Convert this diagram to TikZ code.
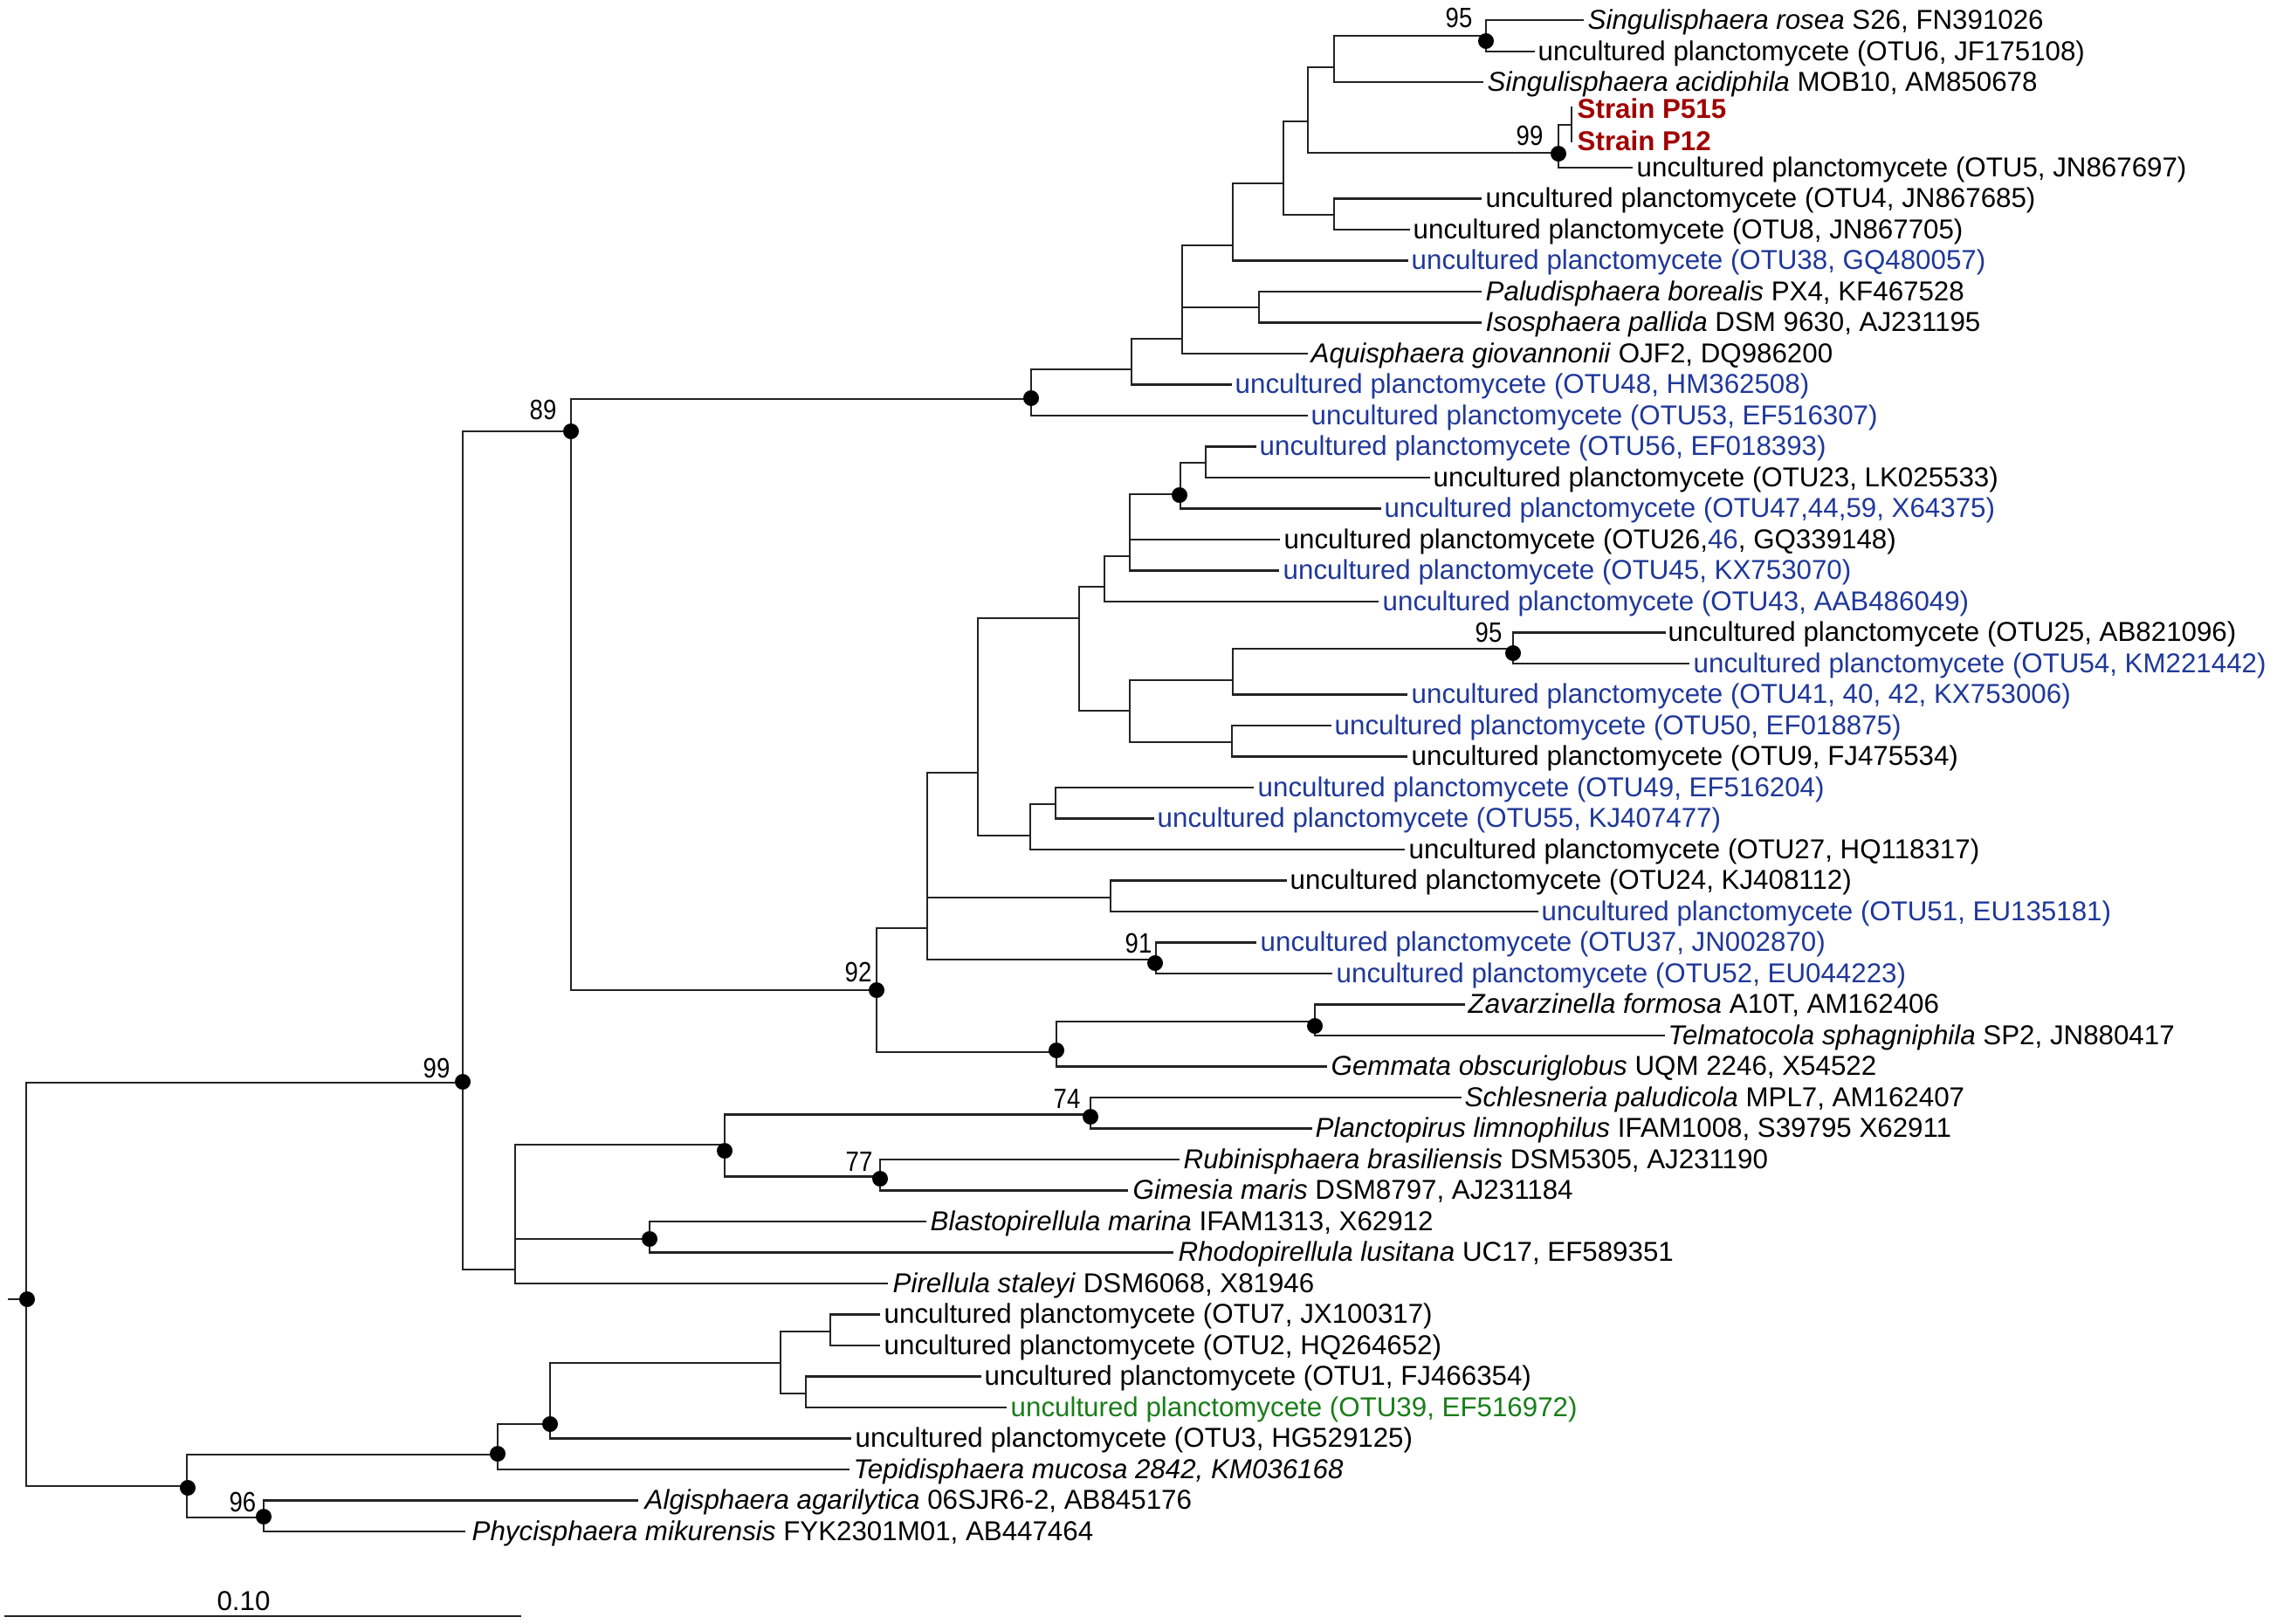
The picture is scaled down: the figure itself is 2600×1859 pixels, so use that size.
\documentclass[tikz,border=0pt]{standalone}
\usepackage{fontspec}
\setmainfont{Liberation Sans}
\definecolor{otublue}{RGB}{31,56,153}
\definecolor{strainred}{RGB}{160,0,0}
\definecolor{otugreen}{RGB}{25,125,25}
\definecolor{treeline}{RGB}{35,35,35}
\begin{document}
\begin{tikzpicture}[x=0.01cm, y=-0.01cm,
  hl/.style={line width=0.6pt, draw=treeline, line cap=rect},
  vl/.style={line width=0.46pt, draw=treeline, line cap=rect},
  dotn/.style={circle, fill=black, inner sep=0pt, minimum size=0.18cm},
  leaf/.style={anchor=base west, inner sep=0pt, font=\fontsize{8.9pt}{10pt}\selectfont},
  bs/.style={anchor=base, inner sep=0pt, font=\fontsize{9.1pt}{10pt}\selectfont, xscale=0.86},
  ub/.style={leaf, text=otublue},
]
\useasboundingbox (0,0) rectangle (2600,1859);

% ---------- internal nodes ----------
\coordinate (R) at (30,1488);
\coordinate (stub) at (10,1488);
\coordinate (A99) at (530,1240);
\coordinate (LOW) at (214,1702);
\coordinate (N89) at (654,494);
\coordinate (PIR) at (590,1454);
\coordinate (U) at (1181,457);
\coordinate (N92) at (1004,1134);
\coordinate (U1) at (1296,423);
\coordinate (U2) at (1354,388);
\coordinate (U3) at (1412,281);
\coordinate (PI) at (1442,352);
\coordinate (U4) at (1470,210);
\coordinate (U5) at (1498,139);
\coordinate (U6) at (1528,246);
\coordinate (U7) at (1528,77);
\coordinate (N95t) at (1702,41);
\coordinate (N99s) at (1785,175);
\coordinate (SP) at (1800,143);
\coordinate (SPa) at (1800,123);
\coordinate (SPb) at (1800,162);
\coordinate (M1) at (1062,1063);
\coordinate (M2) at (1210,1205);
\coordinate (M3) at (1120,885);
\coordinate (M4) at (1272,1028);
\coordinate (N91) at (1324,1099);
\coordinate (M5) at (1236,708);
\coordinate (M6) at (1180,957);
\coordinate (M7) at (1265,672);
\coordinate (M8) at (1294,814);
\coordinate (M9) at (1294,637);
\coordinate (M10) at (1352,566);
\coordinate (M11) at (1381,530);
\coordinate (M12) at (1412,779);
\coordinate (M13) at (1411,850);
\coordinate (N95m) at (1733,743);
\coordinate (M14) at (1209,921);
\coordinate (M15) at (1506,1170);
\coordinate (P1) at (830,1311);
\coordinate (P2) at (744,1419);
\coordinate (N74) at (1249,1276.5);
\coordinate (N77) at (1008,1347.5);
\coordinate (L1) at (570,1666);
\coordinate (N96) at (302,1738);
\coordinate (L2) at (630,1631);
\coordinate (L3) at (894,1560.6);
\coordinate (L4) at (951,1525);
\coordinate (L5) at (923,1596);

% ---------- leaf ends ----------
\coordinate (l1) at (1813,23);
\coordinate (l2) at (1757,59);
\coordinate (l3) at (1698,94);
\coordinate (l6) at (1869,192);
\coordinate (l7) at (1696,227.5);
\coordinate (l8) at (1614,263);
\coordinate (l9) at (1612,298.5);
\coordinate (l10) at (1696,334);
\coordinate (l11) at (1696,369.5);
\coordinate (l12) at (1497,405);
\coordinate (l13) at (1410,440.5);
\coordinate (l14) at (1497,476);
\coordinate (l15) at (1438,511.5);
\coordinate (l16) at (1637,547);
\coordinate (l17) at (1581,582.5);
\coordinate (l18) at (1465,618);
\coordinate (l19) at (1464,653.5);
\coordinate (l20) at (1578,689);
\coordinate (l21) at (1907,724.5);
\coordinate (l22) at (1934,760);
\coordinate (l23) at (1611,795.5);
\coordinate (l24) at (1524,831);
\coordinate (l25) at (1611,866.5);
\coordinate (l26) at (1435,902);
\coordinate (l27) at (1321,937.5);
\coordinate (l28) at (1608,973);
\coordinate (l29) at (1473,1008.5);
\coordinate (l30) at (1761,1044);
\coordinate (l31) at (1438,1079.5);
\coordinate (l32) at (1525,1115);
\coordinate (l33) at (1677,1150.5);
\coordinate (l34) at (1906,1186);
\coordinate (l35) at (1519,1221.5);
\coordinate (l36) at (1673,1257);
\coordinate (l37) at (1502,1292.5);
\coordinate (l38) at (1350,1328);
\coordinate (l39) at (1291,1363.5);
\coordinate (l40) at (1060,1399);
\coordinate (l41) at (1343,1434.5);
\coordinate (l42) at (1016,1470);
\coordinate (l43) at (1007,1505.5);
\coordinate (l44) at (1007,1541);
\coordinate (l45) at (1123,1576.5);
\coordinate (l46) at (1152,1612);
\coordinate (l47) at (974,1647.5);
\coordinate (l48) at (972,1683);
\coordinate (l49) at (730,1718.5);
\coordinate (l50) at (532,1754);

% ---------- verticals ----------
\foreach \p/\a/\b in {R/A99/LOW, A99/N89/PIR, N89/U/N92, U/U1/l14, U1/U2/l13,
  U2/U3/l12, U3/U4/l9, U4/U5/U6, U5/U7/N99s, U7/N95t/l3, N95t/l1/l2,
  N99s/SP/l6, U6/l7/l8, PI/l10/l11, N92/M1/M2, M1/M3/N91, M3/M5/M6,
  M5/M7/M8, M7/M9/l20, M9/M10/l19, M10/M11/l17, M11/l15/l16, M8/M12/M13,
  M12/N95m/l23, N95m/l21/l22, M13/l24/l25, M6/M14/l28, M14/l26/l27,
  M4/l29/l30, N91/l31/l32, M2/M15/l35, M15/l33/l34, PIR/P1/l42, P1/N74/N77,
  N74/l36/l37, N77/l38/l39, P2/l40/l41, LOW/L1/N96, L1/L2/l48, L2/L3/l47,
  L3/L4/L5, L4/l43/l44, L5/l45/l46, N96/l49/l50, SP/SPa/SPb}
  \draw[vl] (\p |- \a) -- (\p |- \b);

% ---------- horizontals ----------
\foreach \p/\c in {R/A99, R/LOW, A99/N89, A99/PIR, N89/U, N89/N92, U/U1, U/l14,
  U1/U2, U1/l13, U2/U3, U2/PI, U2/l12, U3/U4, U3/l9, U4/U5, U4/U6,
  U5/U7, U5/N99s, U7/N95t, U7/l3, N95t/l1, N95t/l2, N99s/SP, N99s/l6,
  U6/l7, U6/l8, PI/l10, PI/l11, N92/M1, N92/M2, M1/M3, M1/M4, M1/N91,
  M3/M5, M3/M6, M5/M7, M5/M8, M7/M9, M7/l20, M9/M10, M9/l18, M9/l19,
  M10/M11, M10/l17, M11/l15, M11/l16, M8/M12, M8/M13, M12/N95m, M12/l23,
  N95m/l21, N95m/l22, M13/l24, M13/l25, M6/M14, M6/l28, M14/l26, M14/l27,
  M4/l29, M4/l30, N91/l31, N91/l32, M2/M15, M2/l35, M15/l33, M15/l34,
  PIR/P1, PIR/P2, PIR/l42, P1/N74, P1/N77, N74/l36, N74/l37, N77/l38,
  N77/l39, P2/l40, P2/l41, LOW/L1, LOW/N96, L1/L2, L1/l48, L2/L3, L2/l47,
  L3/L4, L3/L5, L4/l43, L4/l44, L5/l45, L5/l46, N96/l49, N96/l50}
  \draw[hl] (\p |- \c) -- (\c);
\draw[hl] (stub) -- (R);

% ---------- dots ----------
\node[dotn] (d95t) at (1702,47) {};
\node[dotn] (d99s) at (1785,176) {};
\node[dotn] (dU) at (1181,456) {};
\node[dotn] (dM10) at (1351,567) {};
\node[dotn] (d95m) at (1733,748) {};
\node[dotn] (d91) at (1323,1103) {};
\node[dotn] (d92) at (1004,1134) {};
\node[dotn] (dM2) at (1210,1203) {};
\node[dotn] (dM15) at (1506,1175) {};
\node[dotn] (d89) at (654,494) {};
\node[dotn] (dA99) at (530,1239) {};
\node[dotn] (d74) at (1249,1279) {};
\node[dotn] (dP1) at (830,1318) {};
\node[dotn] (d77) at (1008,1350) {};
\node[dotn] (dP2) at (744,1419) {};
\node[dotn] (dR) at (31,1488) {};
\node[dotn] (dL2) at (630,1631) {};
\node[dotn] (dL1) at (570,1665) {};
\node[dotn] (dLOW) at (215,1704) {};
\node[dotn] (d96) at (302,1737) {};

% ---------- bootstrap values ----------
\node[bs] (b95t) at (1671,31) {95};
\node[bs] (b99s) at (1752,166) {99};
\node[bs] (b89) at (622,480) {89};
\node[bs] (b95m) at (1705,735) {95};
\node[bs] (b91) at (1304,1091) {91};
\node[bs] (b92) at (983,1124) {92};
\node[bs] (b99) at (500,1234) {99};
\node[bs] (b74) at (1222,1269) {74};
\node[bs] (b77) at (984,1341) {77};
\node[bs] (b96) at (278,1731) {96};

% ---------- leaf labels ----------
\node[leaf] (t1) at (1818,33) {\textit{Singulisphaera rosea} S26, FN391026};
\node[leaf] (t2) at (1761,69) {uncultured planctomycete (OTU6, JF175108)};
\node[leaf] (t3) at (1703,104) {\textit{Singulisphaera acidiphila} MOB10, AM850678};
\node[leaf, text=strainred] (t4) at (1806,135) {\textbf{Strain P515}};
\node[leaf, text=strainred] (t5) at (1806,172) {\textbf{Strain P12}};
\node[leaf] (t6) at (1874,202) {uncultured planctomycete (OTU5, JN867697)};
\node[leaf] (t7) at (1701,237.5) {uncultured planctomycete (OTU4, JN867685)};
\node[leaf] (t8) at (1618,273) {uncultured planctomycete (OTU8, JN867705)};
\node[ub] (t9) at (1616,308.5) {uncultured planctomycete (OTU38, GQ480057)};
\node[leaf] (t10) at (1701,344) {\textit{Paludisphaera borealis} PX4, KF467528};
\node[leaf] (t11) at (1701,379.5) {\textit{Isosphaera pallida} DSM 9630, AJ231195};
\node[leaf] (t12) at (1501,415) {\textit{Aquisphaera giovannonii} OJF2, DQ986200};
\node[ub] (t13) at (1414,450.5) {uncultured planctomycete (OTU48, HM362508)};
\node[ub] (t14) at (1501,486) {uncultured planctomycete (OTU53, EF516307)};
\node[ub] (t15) at (1442,521.5) {uncultured planctomycete (OTU56, EF018393)};
\node[leaf] (t16) at (1641,557) {uncultured planctomycete (OTU23, LK025533)};
\node[ub] (t17) at (1585,592.5) {uncultured planctomycete (OTU47,44,59, X64375)};
\node[leaf] (t18) at (1470,628) {uncultured planctomycete (OTU26,\textcolor{otublue}{46}, GQ339148)};
\node[ub] (t19) at (1469,663.5) {uncultured planctomycete (OTU45, KX753070)};
\node[ub] (t20) at (1583,699) {uncultured planctomycete (OTU43, AAB486049)};
\node[leaf] (t21) at (1910,734.5) {uncultured planctomycete (OTU25, AB821096)};
\node[ub] (t22) at (1939,770) {uncultured planctomycete (OTU54, KM221442)};
\node[ub] (t23) at (1616,805.5) {uncultured planctomycete (OTU41, 40, 42, KX753006)};
\node[ub] (t24) at (1528,841) {uncultured planctomycete (OTU50, EF018875)};
\node[leaf] (t25) at (1616,876.5) {uncultured planctomycete (OTU9, FJ475534)};
\node[ub] (t26) at (1440,912) {uncultured planctomycete (OTU49, EF516204)};
\node[ub] (t27) at (1325,947.5) {uncultured planctomycete (OTU55, KJ407477)};
\node[leaf] (t28) at (1613,983) {uncultured planctomycete (OTU27, HQ118317)};
\node[leaf] (t29) at (1477,1018.5) {uncultured planctomycete (OTU24, KJ408112)};
\node[ub] (t30) at (1765,1054) {uncultured planctomycete (OTU51, EU135181)};
\node[ub] (t31) at (1443,1089.5) {uncultured planctomycete (OTU37, JN002870)};
\node[ub] (t32) at (1530,1125) {uncultured planctomycete (OTU52, EU044223)};
\node[leaf] (t33) at (1681,1160.5) {\textit{Zavarzinella formosa} A10T, AM162406};
\node[leaf] (t34) at (1910,1196) {\textit{Telmatocola sphagniphila} SP2, JN880417};
\node[leaf] (t35) at (1524,1231.5) {\textit{Gemmata obscuriglobus} UQM 2246, X54522};
\node[leaf] (t36) at (1677,1267) {\textit{Schlesneria paludicola} MPL7, AM162407};
\node[leaf] (t37) at (1506,1302.5) {\textit{Planctopirus limnophilus} IFAM1008, S39795 X62911};
\node[leaf] (t38) at (1355,1338) {\textit{Rubinisphaera brasiliensis} DSM5305, AJ231190};
\node[leaf] (t39) at (1297,1373.5) {\textit{Gimesia maris} DSM8797, AJ231184};
\node[leaf] (t40) at (1065,1409) {\textit{Blastopirellula marina} IFAM1313, X62912};
\node[leaf] (t41) at (1349,1444.5) {\textit{Rhodopirellula lusitana} UC17, EF589351};
\node[leaf] (t42) at (1022,1480) {\textit{Pirellula staleyi} DSM6068, X81946};
\node[leaf] (t43) at (1012,1515.5) {uncultured planctomycete (OTU7, JX100317)};
\node[leaf] (t44) at (1012,1551) {uncultured planctomycete (OTU2, HQ264652)};
\node[leaf] (t45) at (1127,1586.5) {uncultured planctomycete (OTU1, FJ466354)};
\node[leaf, text=otugreen] (t46) at (1157,1622) {uncultured planctomycete (OTU39, EF516972)};
\node[leaf] (t47) at (979,1657.5) {uncultured planctomycete (OTU3, HG529125)};
\node[leaf] (t48) at (977,1693) {\textit{Tepidisphaera mucosa 2842, KM036168}};
\node[leaf] (t49) at (738,1728.5) {\textit{Algisphaera agarilytica} 06SJR6-2, AB845176};
\node[leaf] (t50) at (540,1764) {\textit{Phycisphaera mikurensis} FYK2301M01, AB447464};

% ---------- scale bar ----------
\coordinate (sb0) at (5,1851);
\coordinate (sb1) at (597,1851);
\draw[line width=0.7pt, draw=treeline] (sb0) -- (sb1);
\node[anchor=base, inner sep=0pt, font=\fontsize{8.9pt}{10pt}\selectfont] (sbl) at (279,1844) {0.10};
\end{tikzpicture}
\end{document}
